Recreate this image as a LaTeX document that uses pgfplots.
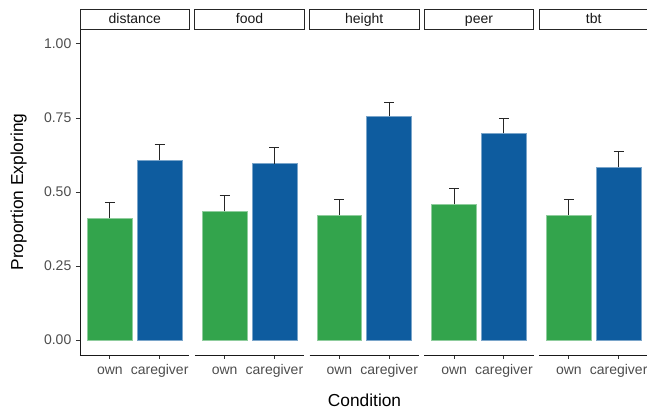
\documentclass[border=0pt]{standalone}
\usepackage{fontspec}
\setmainfont{Liberation Sans}
\usepackage{pgfplots}
\pgfplotsset{compat=1.18}

\definecolor{owngreen}{RGB}{51,164,76}
\definecolor{careblue}{RGB}{14,92,159}
\definecolor{tickgray}{RGB}{77,77,77}

% one facet panel; 1px of the reference = 0.75pt
\pgfplotsset{
  panel/.style={
    scale only axis, width=82.125pt, height=244.5pt, anchor=south west,
    xmin=0.4, xmax=2.6, ymin=-0.05, ymax=1.05,
    axis x line*=bottom,
    xtick={1,2}, xticklabels={own,caregiver},
    ticklabel style={font=\fontsize{10.5}{12}\selectfont, text=tickgray},
    xticklabel style={text height=1.6ex, text depth=0.4ex},
    tick style={draw=black!80, line width=0.6pt},
    tick align=outside, major tick length=3pt,
    axis line style={draw=black!90, line width=0.6pt},
    clip=false,
  },
  firstpanel/.style={
    axis y line*=left,
    ytick={0,0.25,0.5,0.75,1},
    yticklabels={0.00,0.25,0.50,0.75,1.00},
  },
  otherpanel/.style={hide y axis},
  errstyle/.style={
    error bars/.cd, y dir=plus, y explicit,
    error bar style={line width=0.6pt, draw=black!85},
    error mark options={rotate=90, mark size=3.75pt, line width=0.6pt, draw=black!85},
  },
  ownbar/.style={ybar, bar width=0.9, bar shift=0pt, fill=owngreen,
    draw=owngreen!55!white, line width=0.4pt, errstyle},
  carebar/.style={ybar, bar width=0.9, bar shift=0pt, fill=careblue,
    draw=careblue!55!white, line width=0.4pt, errstyle},
}

\newcommand\strip[1]{%
  \draw[draw=black!85, line width=0.6pt, fill=white]
    (rel axis cs:0,1) rectangle ([yshift=15pt]rel axis cs:1,1);
  \node[font=\fontsize{10.5}{12}\selectfont, text=black!90,
        text height=1.6ex, text depth=0.4ex]
    at ([yshift=7.5pt]rel axis cs:0.5,1) {#1};}

\begin{document}
\begin{tikzpicture}
\path[use as bounding box] (0,0) rectangle (485.25pt,306.75pt);

% distance
\begin{axis}[panel, firstpanel, at={(60pt,40.5pt)}]
  \addplot[ownbar] coordinates {(1,0.411) +- (0,0.054)};
  \addplot[carebar] coordinates {(2,0.607) +- (0,0.053)};
  \strip{distance}
\end{axis}

% food
\begin{axis}[panel, otherpanel, at={(146.0625pt,40.5pt)}]
  \addplot[ownbar] coordinates {(1,0.435) +- (0,0.054)};
  \addplot[carebar] coordinates {(2,0.596) +- (0,0.054)};
  \strip{food}
\end{axis}

% height
\begin{axis}[panel, otherpanel, at={(232.125pt,40.5pt)}]
  \addplot[ownbar] coordinates {(1,0.422) +- (0,0.054)};
  \addplot[carebar] coordinates {(2,0.756) +- (0,0.047)};
  \strip{height}
\end{axis}

% peer
\begin{axis}[panel, otherpanel, at={(318.1875pt,40.5pt)}]
  \addplot[ownbar] coordinates {(1,0.458) +- (0,0.053)};
  \addplot[carebar] coordinates {(2,0.698) +- (0,0.051)};
  \strip{peer}
\end{axis}

% tbt
\begin{axis}[panel, otherpanel, at={(404.25pt,40.5pt)}]
  \addplot[ownbar] coordinates {(1,0.422) +- (0,0.054)};
  \addplot[carebar] coordinates {(2,0.583) +- (0,0.054)};
  \strip{tbt}
\end{axis}

\node[rotate=90, font=\fontsize{13}{15}\selectfont] at (13.9pt,162.75pt) {Proportion Exploring};
\node[font=\fontsize{13}{15}\selectfont] at (273.4pt,6.75pt) {Condition};
\end{tikzpicture}
\end{document}
